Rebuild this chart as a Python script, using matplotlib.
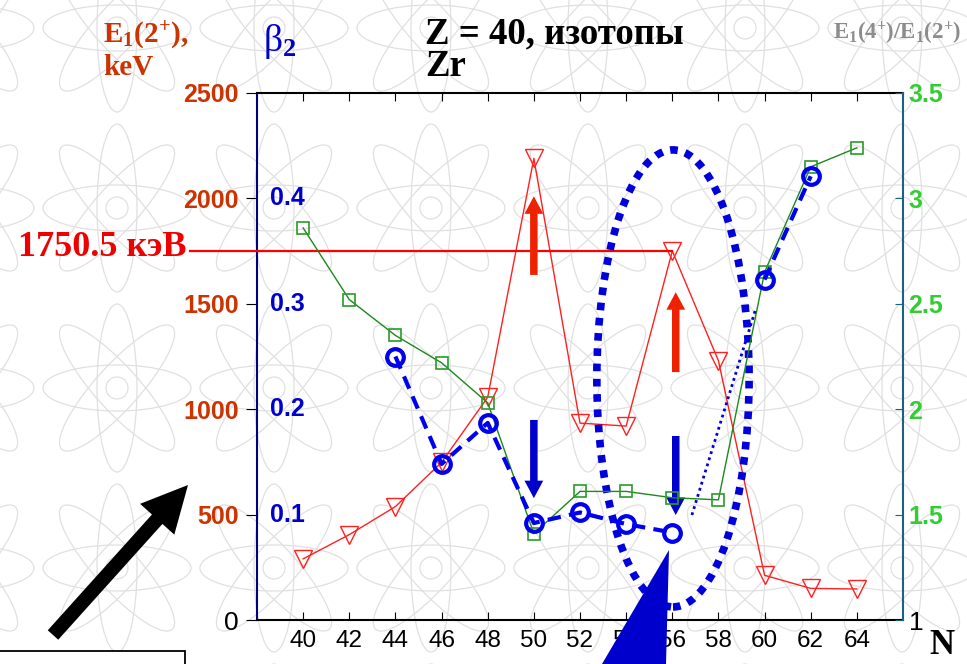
import numpy as np
import matplotlib
matplotlib.use("Agg")
import matplotlib.pyplot as plt
from matplotlib.patches import Ellipse, Circle, Polygon, Rectangle

plt.rcParams['mathtext.fontset'] = 'custom'
plt.rcParams['mathtext.rm'] = 'Liberation Serif'
plt.rcParams['mathtext.bf'] = 'Liberation Serif:bold'
plt.rcParams['mathtext.it'] = 'Liberation Serif:italic'

# Zr isotopes: neutron number, first 2+ energy, E(4+)/E(2+) ratio, deformation beta2
N = [40, 42, 44, 46, 48, 50, 52, 54, 56, 58, 60, 62, 64]
e2_kev = [290, 405, 538, 748, 1057, 2190, 934, 920, 1750.5, 1230, 212, 150, 147]
r42 = [2.86, 2.52, 2.35, 2.22, 2.03, 1.41, 1.61, 1.61, 1.58, 1.57, 2.65, 3.15, 3.24]
beta2 = [np.nan, np.nan, 0.25, 0.148, 0.187, 0.092, 0.102, 0.091, 0.083,
         np.nan, 0.323, 0.421, np.nan]
e_ref = 1750.5

e_ticks = [0, 500, 1000, 1500, 2000, 2500]
beta_ticks = [0.1, 0.2, 0.3, 0.4]
r_ticks = [1, 1.5, 2, 2.5, 3, 3.5]
n_ticks = list(range(40, 65, 2))

W, H = 967, 664
fig = plt.figure(figsize=(W / 100, H / 100), dpi=100)


def fx(x):
    return x / W


def fy(y):
    return 1 - y / H


# faint atom pattern in the background
bg = fig.add_axes([0, 0, 1, 1], zorder=-1)
bg.set_xlim(0, W)
bg.set_ylim(H, 0)
bg.axis('off')
atom_col = '#e0e0e0'
for cy in [28, 208, 388, 568, 748]:
    for cx in [-40, 117, 274, 431, 588, 745, 902, 1059]:
        bg.add_patch(Ellipse((cx, cy), 148, 46, angle=0, fill=False, ec=atom_col, lw=0.9))
        bg.add_patch(Ellipse((cx, cy), 168, 40, angle=90, fill=False, ec=atom_col, lw=0.9))
        bg.add_patch(Ellipse((cx, cy), 165, 44, angle=48, fill=False, ec=atom_col, lw=0.9))
        bg.add_patch(Ellipse((cx, cy), 165, 44, angle=-48, fill=False, ec=atom_col, lw=0.9))
        bg.add_patch(Circle((cx, cy), 11, fill=False, ec=atom_col, lw=0.9))

ax = fig.add_axes([fx(257), fy(620), (903 - 257) / W, (620 - 93) / H])
ax.set_facecolor('none')
ax.set_xlim(38, 66)
ax.set_ylim(0, 2500)

ax2 = ax.twinx()
ax2.set_ylim(1, 3.5)
ax3 = ax.twinx()
ax3.set_ylim(0, 0.5)
ax3.axis('off')

# E(2+) energies
ax.plot(N, e2_kev, color='#ff2020', lw=1, marker='v', ms=13, mfc='none',
        mec='#ff2020', mew=1, zorder=3)
ax.plot([35.1, 56], [e_ref, e_ref], color='#ff0000', lw=1.6, clip_on=False, zorder=3)

# E(4+)/E(2+) ratio
ax2.plot(N, r42, color='#1a8a1a', lw=1, marker='s', ms=9, mfc='none',
         mec='#2a9a2a', mew=1.2, zorder=3)

# beta2 deformation
ax3.plot(N, beta2, color='#0000ee', lw=3, ls=(0, (3.2, 2)), marker='o', ms=12,
         mfc='none', mec='#0000ee', mew=3, zorder=4)
ax3.plot([56.85, 59.6], [0.0996, 0.294], color='#0000dd', lw=2,
         ls=(0, (1, 1.3)), zorder=4)

# dotted ellipse around N = 52..58
ax.add_patch(Ellipse((56.03, 1146), 6.6, 2168, fill=False, ec='#0000dd',
                     lw=5.5, ls=(0, (1, 1)), zorder=5))

# arrows at N = 50 and N = 56
arr_style = 'simple,tail_width=0.3,head_width=0.75,head_length=0.7'
for x, y0, y1 in [(50, 1637, 2010), (56.15, 1176, 1555)]:
    ax.annotate('', xy=(x, y1), xytext=(x, y0),
                arrowprops=dict(arrowstyle=arr_style, color='#ee2200', lw=0,
                                mutation_scale=18, shrinkA=0, shrinkB=0))
for x, y0, y1 in [(50, 949, 578), (56.15, 873, 498)]:
    ax.annotate('', xy=(x, y1), xytext=(x, y0),
                arrowprops=dict(arrowstyle=arr_style, color='#0000cc', lw=0,
                                mutation_scale=18, shrinkA=0, shrinkB=0))

# spines and ticks
ax.spines['right'].set_visible(False)
ax.spines['left'].set_color('#000080')
ax.spines['left'].set_linewidth(1.5)
ax.spines['top'].set_linewidth(1.5)
ax.spines['bottom'].set_linewidth(1.5)
for s in ['left', 'top', 'bottom']:
    ax2.spines[s].set_visible(False)
ax2.spines['right'].set_color('#1f5f80')
ax2.spines['right'].set_linewidth(1.5)

ax.set_xticks(n_ticks)
ax.set_xticklabels([str(n) for n in n_ticks], fontsize=17.5, family='Liberation Sans')
ax.tick_params(axis='x', direction='in', length=6, top=True, bottom=True, pad=7)

ax.set_yticks(e_ticks)
ax.set_yticklabels([str(v) for v in e_ticks], fontsize=18, family='Liberation Sans',
                   weight='bold', color='#cc3300')
ax.tick_params(axis='y', direction='out', length=8, pad=5)
ytick_cols = ['#000000', '#4050c0', '#505050', '#4050d0', '#5060e0', '#404040']
for t, c in zip(ax.yaxis.get_major_ticks(), ytick_cols):
    t.tick1line.set_color(c)
zero_lab = ax.get_yticklabels()[0]
zero_lab.set_color('black')
zero_lab.set_fontweight('normal')
zero_lab.set_fontsize(19)

ax2.set_yticks(r_ticks)
ax2.set_yticklabels(['1', '1.5', '2', '2.5', '3', '3.5'], fontsize=18,
                    family='Liberation Sans', weight='bold', color='#33cc33')
ax2.tick_params(axis='y', direction='in', length=6, pad=4, color='#1f5f80')
one_lab = ax2.get_yticklabels()[0]
one_lab.set_color('black')
one_lab.set_fontweight('normal')
one_lab.set_fontsize(19)

# beta2 scale written inside the left edge
for b in beta_ticks:
    ax3.text(0.02, b, f'{b:.1f}', transform=ax3.get_yaxis_transform(),
             ha='left', va='center', fontsize=18, family='Liberation Sans',
             weight='bold', color='#0000cc')

# headings and labels
fig.text(fx(103), fy(19), 'E$_\\mathbf{1}$(2$^\\mathbf{+}$),\nkeV', ha='left', va='top',
         fontsize=21, family='Liberation Serif', weight='bold', color='#cc3300',
         linespacing=1.15)
fig.text(fx(263), fy(22), 'β$_\\mathbf{2}$', ha='left', va='top', fontsize=27,
         family='Liberation Serif', color='#0000cc')
fig.text(fx(425), fy(16), 'Z = 40, изотопы\nZr', ha='left', va='top', fontsize=26.5,
         family='Liberation Serif', weight='bold', color='black', linespacing=0.92)
fig.text(fx(833), fy(20), 'E$_\\mathbf{1}$(4$^\\mathbf{+}$)/E$_\\mathbf{1}$(2$^\\mathbf{+}$)',
         ha='left', va='top', fontsize=16.5, family='Liberation Serif', weight='bold',
         color='#8c8c8c')
fig.text(fx(186), fy(247), '1750.5 кэВ', ha='right', va='center', fontsize=26,
         family='Liberation Serif', weight='bold', color='#ee0000')
fig.text(fx(929), fy(662), 'N', ha='left', va='bottom', fontsize=25,
         family='Liberation Serif', weight='bold', color='black')

# big black pointer on the lower left
fig.add_artist(plt.Annotation(
    '', xy=(188, H - 485), xytext=(53, H - 635),
    xycoords='figure pixels', textcoords='figure pixels',
    arrowprops=dict(arrowstyle='simple,tail_width=0.26,head_width=0.85,head_length=0.85',
                    color='black', lw=0, mutation_scale=39, shrinkA=0, shrinkB=0),
    zorder=10))

# blue wedge and white frame at the bottom
wedge = [(602, 664), (669, 550), (666, 664)]
fig.add_artist(Polygon([(fx(x), fy(y)) for x, y in wedge], closed=True,
                       transform=fig.transFigure, fc='#0000cc', ec='none', zorder=10))
fig.add_artist(Rectangle((fx(-5), fy(672)), fx(190), (672 - 651) / H,
                         transform=fig.transFigure, fc='white', ec='black',
                         lw=1.3, zorder=10))

fig.savefig('out.png', dpi=100)
